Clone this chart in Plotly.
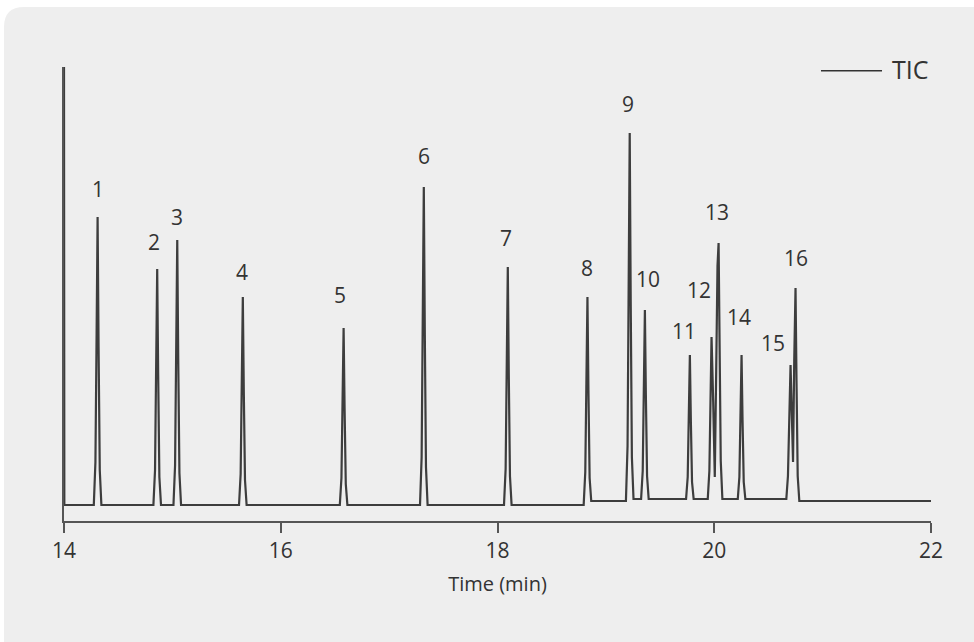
import plotly.graph_objects as go

# ---- data (TIC chromatogram) ----
time_min = [
    14.000, 14.003,
    14.275, 14.290, 14.301, 14.310, 14.319, 14.330, 14.345,
    14.825, 14.840, 14.851, 14.860, 14.869, 14.880, 14.895,
    15.010, 15.025, 15.036, 15.045, 15.054, 15.065, 15.080,
    15.615, 15.630, 15.641, 15.650, 15.659, 15.670, 15.685,
    16.545, 16.560, 16.571, 16.580, 16.589, 16.600, 16.615,
    17.285, 17.300, 17.311, 17.320, 17.329, 17.340, 17.355,
    18.060, 18.075, 18.086, 18.095, 18.104, 18.115, 18.130,
    18.795, 18.810, 18.821, 18.830, 18.839, 18.850, 18.865,
    19.185, 19.200, 19.211, 19.220, 19.229, 19.240, 19.255,
    19.325, 19.340, 19.351, 19.360, 19.369, 19.380, 19.395,
    19.740, 19.755, 19.766, 19.775, 19.784, 19.795, 19.810,
    19.940, 19.955, 19.966, 19.975, 19.990, 20.005, 20.018, 20.030, 20.040, 20.049, 20.060, 20.075,
    20.217, 20.232, 20.243, 20.252, 20.261, 20.272, 20.287,
    20.665, 20.680, 20.692, 20.704, 20.715, 20.727, 20.738, 20.750, 20.759, 20.770, 20.785,
    22.000,
]
signal = [
    454, 16,
    16, 59, 189, 304, 174, 51, 16,
    16, 51, 158, 252, 146, 44, 16,
    16, 56, 175, 281, 162, 48, 16,
    16, 47, 141, 224, 130, 41, 16,
    16, 43, 122, 193, 113, 37, 16,
    16, 64, 207, 334, 191, 54, 16,
    16, 52, 159, 254, 147, 45, 16,
    16, 49, 142, 224, 131, 43, 20,
    20, 75, 241, 388, 222, 64, 22,
    22, 50, 135, 211, 126, 45, 22,
    22, 44, 108, 166, 101, 39, 22,
    22, 50, 130, 184, 120, 44, 150, 255, 278, 165, 60, 22,
    22, 44, 108, 166, 101, 39, 22,
    22, 45, 115, 156, 110, 59, 160, 233, 140, 45, 20,
    20,
]

peak_labels = [str(i) for i in range(1, 17)]
peak_times = [14.310, 14.860, 15.045, 15.650, 16.580, 17.320, 18.095, 18.830,
              19.220, 19.360, 19.775, 19.975, 20.040, 20.252, 20.704, 20.750]
peak_heights = [304, 252, 281, 224, 193, 334, 254, 224,
                388, 211, 166, 184, 278, 166, 156, 233]

x_ticks = [14, 16, 18, 20, 22]
series_name = "TIC"

# ---- label offsets (px) from each peak apex ----
label_dx = [0, -3, 0, -1, -4, 0, -2, 0, -2, 3, -6, -13, -2, -3, -18, 0]
label_dy = [28, 27, 23, 25, 33, 31, 29, 29, 29, 31, 24, 47, 31, 38, 22, 30]

FONT = "Open Sans, Noto Sans, sans-serif"
TXT = "#333333"
AX = "#555555"
BG = "#eeeeee"

fig = go.Figure()
fig.add_trace(go.Scatter(
    x=time_min, y=signal, mode="lines", name=series_name,
    line=dict(color="#3d3d3d", width=2.2), showlegend=False,
))

annotations = []
for lab, t, h, dx, dy in zip(peak_labels, peak_times, peak_heights, label_dx, label_dy):
    annotations.append(dict(
        x=t, y=h, xref="x", yref="y", text=lab, showarrow=False,
        xshift=dx, yshift=dy, font=dict(family=FONT, size=21, color=TXT),
    ))

# legend (line + text)
annotations.append(dict(
    x=0.9769, y=0.9949, xref="paper", yref="paper", text=series_name,
    showarrow=False, xanchor="center", yanchor="middle",
    font=dict(family=FONT, size=25, color=TXT),
))

shapes = [
    # rounded background panel
    dict(type="path", xref="paper", yref="paper", layer="below",
         path="M -0.0692,-0.306 L -0.0692,1.0881 Q -0.0692,1.1322 -0.0461,1.1322 "
              "L 1.068,1.1322 L 1.068,-0.306 Z",
         fillcolor=BG, line=dict(width=0)),
    dict(type="line", xref="paper", yref="paper",
         x0=0.8731, x1=0.9435, y0=0.9919, y1=0.9919,
         line=dict(color="#333333", width=1.6)),
]

fig.update_layout(
    width=974, height=642,
    margin=dict(l=64, r=43, t=67, b=121),
    paper_bgcolor="white",
    plot_bgcolor=BG,
    font=dict(family=FONT, color=TXT),
    annotations=annotations,
    shapes=shapes,
    showlegend=False,
    xaxis=dict(
        range=[14, 22], tickvals=x_ticks, ticktext=[str(v) for v in x_ticks],
        showline=True, linecolor=AX, linewidth=2,
        ticks="outside", ticklen=10, tickwidth=2, tickcolor=AX,
        showgrid=False, zeroline=False,
        tickfont=dict(family=FONT, size=21, color=TXT),
        title=dict(text="Time (min)", font=dict(family=FONT, size=20, color=TXT), standoff=14),
    ),
    yaxis=dict(
        range=[0, 454], showline=True, linecolor=AX, linewidth=2,
        showticklabels=False, ticks="", showgrid=False, zeroline=False,
    ),
)

fig.write_html("out.html", config={"displayModeBar": False},
               post_script="document.body.style.margin='0';")
